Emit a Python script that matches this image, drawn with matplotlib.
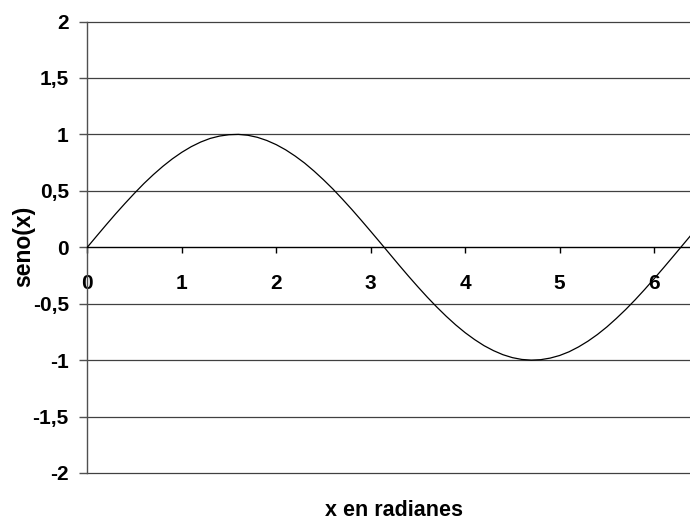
import matplotlib
matplotlib.use("Agg")
import matplotlib.pyplot as plt

x_vals = [0.0, 0.1, 0.2, 0.3, 0.4, 0.5, 0.6, 0.7, 0.8, 0.9,
          1.0, 1.1, 1.2, 1.3, 1.4, 1.5, 1.6, 1.7, 1.8, 1.9,
          2.0, 2.1, 2.2, 2.3, 2.4, 2.5, 2.6, 2.7, 2.8, 2.9,
          3.0, 3.1, 3.2, 3.3, 3.4, 3.5, 3.6, 3.7, 3.8, 3.9,
          4.0, 4.1, 4.2, 4.3, 4.4, 4.5, 4.6, 4.7, 4.8, 4.9,
          5.0, 5.1, 5.2, 5.3, 5.4, 5.5, 5.6, 5.7, 5.8, 5.9,
          6.0, 6.1, 6.2, 6.3, 6.4]
seno_vals = [0.000, 0.100, 0.199, 0.296, 0.389, 0.479, 0.565, 0.644, 0.717, 0.783,
             0.841, 0.891, 0.932, 0.964, 0.985, 0.997, 1.000, 0.992, 0.974, 0.946,
             0.909, 0.863, 0.808, 0.746, 0.675, 0.598, 0.516, 0.427, 0.335, 0.239,
             0.141, 0.042, -0.058, -0.158, -0.256, -0.351, -0.443, -0.530, -0.612, -0.688,
             -0.757, -0.818, -0.872, -0.916, -0.952, -0.978, -0.994, -1.000, -0.996, -0.982,
             -0.959, -0.926, -0.883, -0.832, -0.773, -0.706, -0.631, -0.551, -0.465, -0.374,
             -0.279, -0.182, -0.083, 0.017, 0.117]
x_ticks = [0, 1, 2, 3, 4, 5, 6]
x_ticklabels = ["0", "1", "2", "3", "4", "5", "6"]
y_ticks = [2, 1.5, 1, 0.5, 0, -0.5, -1, -1.5, -2]
y_ticklabels = ["2", "1,5", "1", "0,5", "0", "-0,5", "-1", "-1,5", "-2"]

plt.rcParams['font.family'] = ['Liberation Sans', 'DejaVu Sans']

W, H = 690, 521
fig = plt.figure(figsize=(W / 100, H / 100), dpi=100)
left = 87.3 / W
bottom = 1 - 473 / H
top = 1 - 21.5 / H
ax = fig.add_axes([left, bottom, 1.0 - left, top - bottom])

ax.set_xlim(0, 6.38)
ax.set_ylim(-2, 2)

# horizontal gridlines
for yv in y_ticks:
    if yv != 0:
        ax.axhline(yv, color='#404040', lw=0.9, zorder=1, clip_on=False)

ax.plot(x_vals, seno_vals, color='black', lw=0.9, zorder=3)

for s in ['top', 'right']:
    ax.spines[s].set_visible(False)
ax.spines['left'].set_color('#505050')
ax.spines['left'].set_linewidth(1.0)
ax.spines['bottom'].set_position(('data', 0))
ax.spines['bottom'].set_color('black')
ax.spines['bottom'].set_linewidth(1.0)

ax.set_yticks(y_ticks)
ax.set_yticklabels(y_ticklabels, fontsize=15, fontweight='bold')
ax.tick_params(axis='y', direction='out', length=5.8, width=1.0, color='#505050', pad=7.5)

ax.set_xticks(x_ticks)
ax.set_xticklabels(x_ticklabels, fontsize=15, fontweight='bold')
ax.tick_params(axis='x', direction='out', length=4.3, width=1.0, color='black', pad=15)

fig.text(24 / W, 1 - 246.5 / H, 'seno(x)', rotation=90, ha='center', va='center',
         fontsize=16.5, fontweight='bold')
fig.text(393.7 / W, 1 - 516.5 / H, 'x en radianes', ha='center', va='baseline',
         fontsize=15.5, fontweight='bold')

fig.savefig('out.png', dpi=100)
